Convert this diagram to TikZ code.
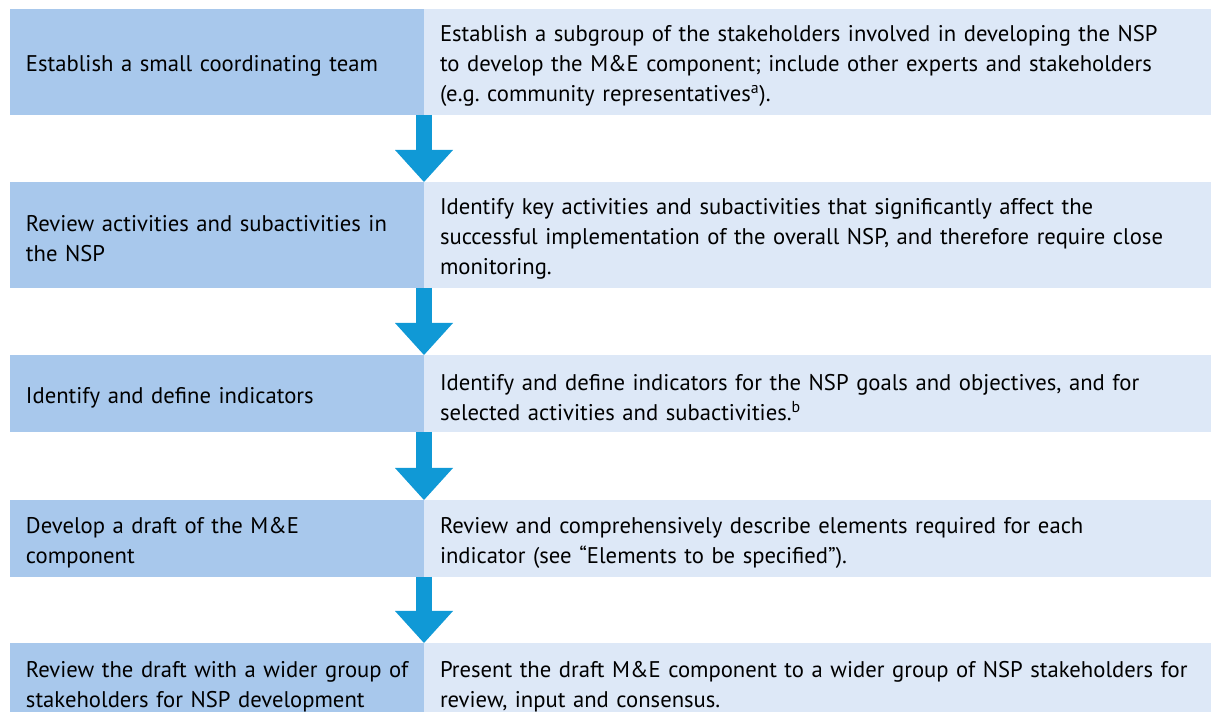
\documentclass[tikz,border=0pt]{standalone}
\usepackage{fontspec}
\setmainfont{PT Sans}
\usetikzlibrary{arrows.meta}
\newdimen\px \px=0.75pt
\definecolor{stepdark}{RGB}{168,200,236}
\definecolor{steplight}{RGB}{221,232,247}
\definecolor{flowblue}{RGB}{16,153,214}

\begin{document}
\frenchspacing
\begin{tikzpicture}[x=\px,y=-\px,
  every node/.style={font=\fontsize{17}{22.5}\selectfont, outer sep=0pt,
    inner ysep=0pt, inner xsep=16\px, anchor=north west, align=left,
    execute at begin node={\rule{0pt}{18pt}}},
  lbox/.style={fill=stepdark, minimum width=414\px, text width=382\px},
  rbox/.style={fill=steplight, minimum width=787\px, text width=755\px},
  flow/.style={draw=flowblue, line width=12pt,
    -{Triangle[width=43.5pt,length=24pt,line width=0pt,fill=flowblue]}}]
  \useasboundingbox (0,0) rectangle (1211,712);

  \node (l1) [lbox, minimum height=106\px] at (10,9)
    {Establish a small coordinating team};
  \node (r1) [rbox, minimum height=106\px] at (l1.north east)
    {Establish a subgroup of the stakeholders involved in developing the NSP\\
     to develop the M\&E component; include other experts and stakeholders\\
     (e.g. community representatives\textsuperscript{a}).};

  \node (l2) [lbox, minimum height=106\px] at (10,182)
    {Review activities and subactivities in\\ the NSP};
  \node (r2) [rbox, minimum height=106\px] at (l2.north east)
    {Identify key activities and subactivities that significantly affect the\\
     successful implementation of the overall NSP, and therefore require close\\
     monitoring.};

  \node (l3) [lbox, minimum height=77\px] at (10,355)
    {Identify and define indicators};
  \node (r3) [rbox, minimum height=77\px] at (l3.north east)
    {Identify and define indicators for the NSP goals and objectives, and for\\
     selected activities and subactivities.\textsuperscript{b}};

  \node (l4) [lbox, minimum height=77\px] at (10,500)
    {Develop a draft of the M\&E\\ component};
  \node (r4) [rbox, minimum height=77\px] at (l4.north east)
    {Review and comprehensively describe elements required for each\\
     indicator (see “Elements to be specified”).};

  \node (l5) [lbox, minimum height=79\px] at (10,643)
    {\mbox{Review the draft with a wider group of}\\ stakeholders for NSP development};
  \node (r5) [rbox, minimum height=79\px] at (l5.north east)
    {Present the draft M\&E component to a wider group of NSP stakeholders for\\
     review, input and consensus.};

  \draw[flow] (l1.south east) -- (l2.north east);
  \draw[flow] (l2.south east) -- (l3.north east);
  \draw[flow] (l3.south east) -- (l4.north east);
  \draw[flow] (l4.south east) -- (l5.north east);
\end{tikzpicture}
\end{document}
